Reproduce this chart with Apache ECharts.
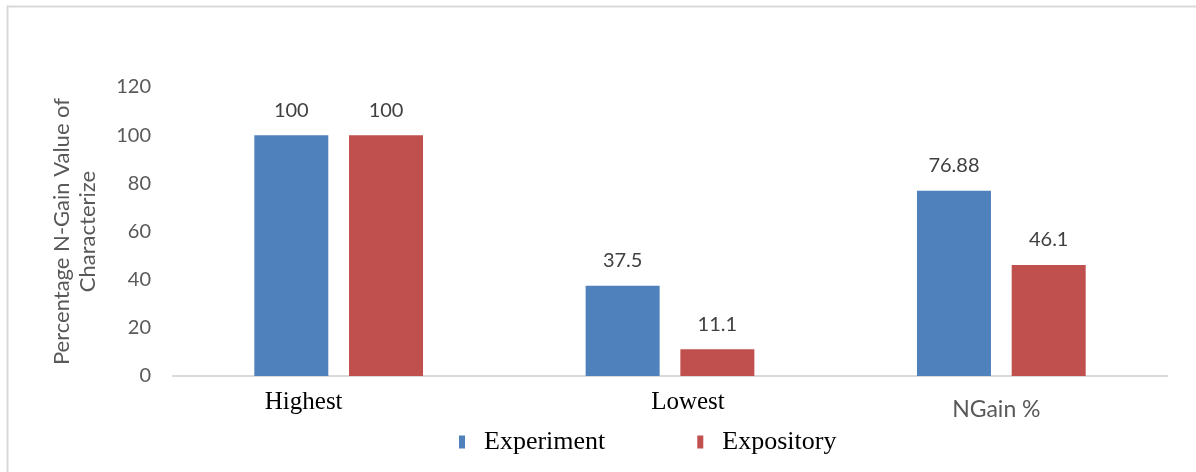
<!DOCTYPE html>
<html>
<head>
<meta charset="utf-8">
<style>
  html, body { margin: 0; padding: 0; background: #fff; }
  #chart { width: 1196px; height: 472px; }
</style>
<script src="https://cdn.jsdelivr.net/npm/echarts@6/dist/echarts.min.js"></script>
</head>
<body>
<div id="chart"></div>
<script>
// Categories and series values
const categories = ['Highest', 'Lowest', 'NGain %'];
const experiment = [100, 37.5, 76.88];
const expository = [100, 11.1, 46.1];
const seriesNames = ['Experiment', 'Expository'];
const yTicks = { min: 0, max: 120, interval: 20 };
const yAxisTitle = 'Percentage N-Gain Value of\nCharacterize';

const chart = echarts.init(document.getElementById('chart'), null, { renderer: 'canvas' });

const sansFont = 'Lato, "Open Sans", sans-serif';
const serifFont = '"Liberation Serif", "DejaVu Serif", serif';
// per-category label style keys
const catStyle = { Highest: 'hi', Lowest: 'lo', 'NGain %': 'ng' };

const labelCommon = {
  show: true,
  position: 'top',
  distance: 15,
  fontFamily: sansFont,
  fontSize: 20,
  color: '#404040'
};

chart.setOption({
  animation: false,
  backgroundColor: '#ffffff',
  graphic: [{
    type: 'rect',
    shape: { x: 7.5, y: 6.5, width: 1250, height: 520 },
    style: { fill: 'none', stroke: '#d9d9d9', lineWidth: 2 },
    silent: true
  }],
  grid: { left: 173, right: 29, top: 87, bottom: 96 },
  legend: {
    data: seriesNames,
    top: 424,
    left: 454,
    itemWidth: 6,
    itemHeight: 13,
    itemGap: 92,
    icon: 'rect',
    textStyle: { fontFamily: serifFont, fontSize: 26, color: '#000', padding: [0, 0, 0, 14] }
  },
  xAxis: {
    type: 'category',
    data: categories,
    axisLine: { lineStyle: { color: '#d9d9d9', width: 2 } },
    axisTick: { show: false },
    axisLabel: {
      margin: 14,
      formatter: v => '{' + catStyle[v] + '|' + v + '}',
      rich: {
        hi: { fontFamily: serifFont, fontSize: 25, color: '#000', padding: [0, 70, 0, 0] },
        lo: { fontFamily: serifFont, fontSize: 25, color: '#000', padding: [0, 0, 0, 36] },
        ng: { fontFamily: sansFont, fontSize: 23, color: '#595959', padding: [8, 10, 0, 0] }
      }
    }
  },
  yAxis: {
    type: 'value',
    min: yTicks.min,
    max: yTicks.max,
    interval: yTicks.interval,
    name: yAxisTitle,
    nameLocation: 'middle',
    nameGap: 72,
    nameRotate: 90,
    nameTextStyle: { fontFamily: sansFont, fontSize: 22, color: '#595959', lineHeight: 26, align: 'center' },
    axisLine: { show: false },
    axisTick: { show: false },
    splitLine: { show: false },
    axisLabel: { fontFamily: sansFont, fontSize: 20, color: '#595959', margin: 22 }
  },
  series: [
    {
      name: seriesNames[0],
      type: 'bar',
      data: experiment,
      barWidth: 74,
      barGap: '28%',
      itemStyle: { color: '#4F81BD' },
      label: labelCommon
    },
    {
      name: seriesNames[1],
      type: 'bar',
      data: expository,
      barWidth: 74,
      itemStyle: { color: '#C0504D' },
      label: labelCommon
    }
  ]
});
</script>
</body>
</html>
